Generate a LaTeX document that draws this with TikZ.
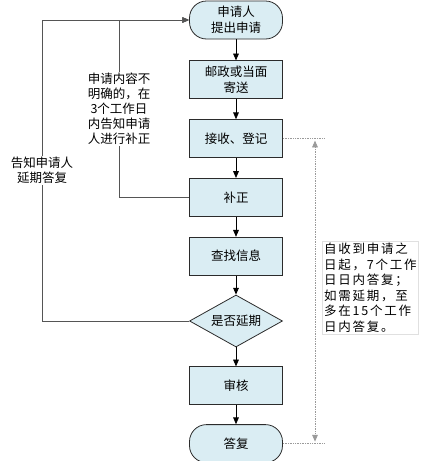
\documentclass[tikz,border=0pt]{standalone}
\usepackage{fontspec}
\setmainfont{Noto Sans CJK SC}
\newfontfamily\notefont[LetterSpace=14]{Noto Sans CJK SC}
\usetikzlibrary{arrows.meta,positioning,shapes.geometric}
\definecolor{stepFill}{HTML}{DAEDF3}
\definecolor{stepLine}{HTML}{2B2B2B}
\definecolor{loopGray}{HTML}{555555}
\definecolor{noteGray}{HTML}{9A9A9A}
\tikzset{
  flow/.style={-{Triangle[length=2.4mm,width=2mm]}, line width=0.8pt, draw=black},
  loop line/.style={flow, draw=loopGray},
  note line/.style={densely dotted, line width=0.7pt, draw=noteGray},
  stepbox/.style={draw=stepLine, fill=stepFill, line width=0.8pt, align=center,
    minimum width=93pt, minimum height=38pt, inner sep=2pt,
    font=\fontsize{12.5}{16}\selectfont},
  terminal/.style={stepbox, rounded corners=17pt},
  choice/.style={stepbox, diamond, aspect=1.79, minimum width=93pt,
    minimum height=52pt, inner sep=0pt},
  side label/.style={fill=white, align=center, inner sep=1pt,
    font=\fontsize{12.5}{15}\selectfont},
  note box/.style={draw=black!12, fill=white, align=left, inner sep=2pt,
    font=\notefont\fontsize{12.5}{15.5}\selectfont}
}
\begin{document}
\begin{tikzpicture}[x=1pt, y=1pt, node distance=20pt]
  \useasboundingbox (0,0) rectangle (422,-461);
  % main column
  \node[terminal] (apply) at (236,-20) {申请人\\提出申请};
  \node[stepbox, below=21pt of apply] (send) {邮政或当面\\寄送};
  \node[stepbox, below=of send] (register) {接收、登记};
  \node[stepbox, below=of register] (fix) {补正};
  \node[stepbox, below=of fix] (search) {查找信息};
  \node[choice, below=19pt of search] (delay) {是否延期};
  \node[stepbox, below=19pt of delay] (review) {审核};
  \node[terminal, below=19pt of review] (answer) {答复};
  \draw[flow] (apply) -- (send);
  \draw[flow] (send) -- (register);
  \draw[flow] (register) -- (fix);
  \draw[flow] (fix) -- (search);
  \draw[flow] (search) -- (delay);
  \draw[flow] (delay) -- (review);
  \draw[flow] (review) -- (answer);
  % loops back to the start
  \coordinate (outer) at (42,0);
  \coordinate (inner) at (119,0);
  \draw[loop line] (delay.west) -- (delay.west -| outer) |-
    node[side label, pos=0.25] (delaynote) {告知申请人\\延期答复} (apply.west);
  \draw[loop line] (fix.west) -- (fix.west -| inner) |-
    node[side label, pos=0.25] (fixnote) {申请内容不\\明确的，在\\3个工作日\\内告知申请\\人进行补正} (apply.west);
  % time limit
  \coordinate (rail) at (315,0);
  \draw[note line] (register.east) -- ++(42,0);
  \draw[note line] (answer.east) -- ++(42,0);
  \draw[note line, {Triangle[length=2.4mm,width=2mm,fill=noteGray]}-{Triangle[length=2.4mm,width=2mm,fill=noteGray]}]
    ([yshift=-2pt]register.east -| rail) -- ([yshift=2pt]answer.east -| rail);
  \node[note box, anchor=north west] (limit) at (322,-241)
    {自收到申请之\\日起，7个工作\\日日内答复；\\如需延期，至\\多在15个工作\\日内答复。};
\end{tikzpicture}
\end{document}
